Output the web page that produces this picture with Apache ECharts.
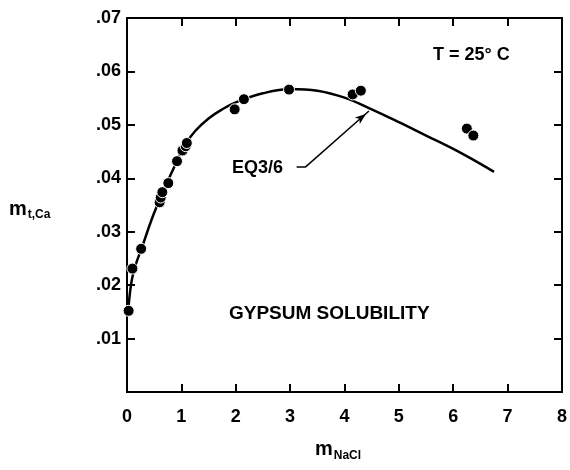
<!DOCTYPE html>
<html>
<head>
<meta charset="utf-8">
<script src="https://cdn.jsdelivr.net/npm/echarts@6/dist/echarts.min.js"></script>
<style>
	html, body { margin: 0; padding: 0; background: #fff; }
	#chart { width: 570px; height: 470px; }
</style>
</head>
<body>
<div id="chart"></div>
<script>
// 测量点 (m NaCl, m t,Ca)
const measuredX = [0.03, 0.1, 0.26, 0.6, 0.62, 0.65, 0.76, 0.92, 1.02, 1.08, 1.1, 1.98, 2.15, 2.98, 4.15, 4.3, 6.25, 6.37];
const measuredY = [0.0152, 0.0231, 0.0268, 0.0355, 0.0364, 0.0374, 0.0391, 0.0432, 0.0452, 0.046, 0.0466, 0.0529, 0.0548, 0.0566, 0.0557, 0.0564, 0.0493, 0.0480];

// EQ3/6 计算曲线
const modelX = [0.02, 0.08, 0.15, 0.3, 0.45, 0.6, 0.75, 0.9, 1.05, 1.25, 1.5, 1.75, 2.0, 2.5, 3.0, 3.5, 4.0, 4.5, 5.0, 5.5, 6.0, 6.5, 6.75];
const modelY = [0.0150, 0.0205, 0.0235, 0.0278, 0.0322, 0.0360, 0.0395, 0.0428, 0.0460, 0.0488, 0.0512, 0.0529, 0.0542, 0.0559, 0.0567, 0.0564, 0.0551, 0.0529, 0.0505, 0.0480, 0.0455, 0.0427, 0.0412];

// 刻度
const xTicks = [0, 1, 2, 3, 4, 5, 6, 7, 8];
const yTicks = [0, 0.01, 0.02, 0.03, 0.04, 0.05, 0.06, 0.07];

// 标注箭头 (EQ3/6 -> 曲线)
const pointerX = [3.12, 3.28, 4.45];
const pointerY = [0.0421, 0.0421, 0.0526];

const FONT = '"Liberation Sans", Arial, sans-serif';

const chart = echarts.init(document.getElementById('chart'));

const tickStyle = {
	show: true,
	inside: true,
	length: 8,
	lineStyle: { color: '#000', width: 2 }
};
const lineStyle = { onZero: false, show: true, lineStyle: { color: '#000', width: 2 } };

const option = {
	animation: false,
	grid: {
		left: 127,
		right: 5,
		top: 18,
		bottom: 78,
		show: true,
		borderColor: '#000',
		borderWidth: 2
	},
	xAxis: [
		{
			type: 'value',
			min: xTicks[0],
			max: xTicks[xTicks.length - 1],
			interval: 1,
			axisLine: lineStyle,
			axisTick: tickStyle,
			splitLine: { show: false },
			axisLabel: {
				color: '#000',
				fontFamily: FONT,
				fontWeight: 'bold',
				fontSize: 18,
				margin: 16
			}
		},
		{
			type: 'value',
			position: 'top',
			min: xTicks[0],
			max: xTicks[xTicks.length - 1],
			interval: 1,
			axisLine: lineStyle,
			axisTick: tickStyle,
			splitLine: { show: false },
			axisLabel: { show: false }
		}
	],
	yAxis: [
		{
			type: 'value',
			min: yTicks[0],
			max: yTicks[yTicks.length - 1],
			interval: 0.01,
			axisLine: lineStyle,
			axisTick: tickStyle,
			splitLine: { show: false },
			axisLabel: {
				color: '#000',
				fontFamily: FONT,
				fontWeight: 'bold',
				fontSize: 18,
				margin: 6,
				formatter: v => v === 0 ? '' : '.' + String(Math.round(v * 100)).padStart(2, '0')
			}
		},
		{
			type: 'value',
			position: 'right',
			min: yTicks[0],
			max: yTicks[yTicks.length - 1],
			interval: 0.01,
			axisLine: lineStyle,
			axisTick: tickStyle,
			splitLine: { show: false },
			axisLabel: { show: false }
		}
	],
	series: [
		{
			name: 'EQ3/6',
			type: 'line',
			smooth: 0.4,
			symbol: 'none',
			lineStyle: { color: '#000', width: 2.5 },
			data: modelX.map((x, i) => [x, modelY[i]]),
			z: 2
		},
		{
			name: 'pointer',
			type: 'line',
			symbol: 'none',
			lineStyle: { color: '#000', width: 1.5 },
			data: pointerX.map((x, i) => [x, pointerY[i]]),
			markPoint: {
				symbol: 'arrow',
				symbolSize: [6, 11],
				symbolRotate: -52,
				symbolOffset: [-3, 3],
				itemStyle: { color: '#000' },
				label: { show: false },
				data: [{ coord: [pointerX[2], pointerY[2]] }]
			},
			z: 2
		},
		{
			name: 'measured',
			type: 'scatter',
			symbol: 'circle',
			symbolSize: 11,
			itemStyle: { color: '#000', opacity: 1, borderColor: '#fff', borderWidth: 1 },
			data: measuredX.map((x, i) => [x, measuredY[i]]),
			z: 3
		}
	],
	graphic: [
		{
			type: 'text',
			left: 433,
			top: 46,
			style: { text: 'T = 25° C', font: 'bold 18px ' + FONT, fill: '#000' }
		},
		{
			type: 'text',
			left: 232,
			top: 159,
			style: { text: 'EQ3/6', font: 'bold 18px ' + FONT, fill: '#000' }
		},
		{
			type: 'text',
			left: 229,
			top: 304,
			style: { text: 'GYPSUM SOLUBILITY', font: 'bold 19px ' + FONT, fill: '#000' }
		},
		{
			type: 'text',
			left: 9,
			top: 197,
			style: {
				text: '{m|m}{s|t,Ca}',
				rich: {
					m: { font: 'bold 20px ' + FONT, fill: '#000', lineHeight: 22 },
					s: { font: 'bold 12px ' + FONT, fill: '#000', padding: [12, 0, 0, 1], lineHeight: 22 }
				}
			}
		},
		{
			type: 'text',
			left: 315,
			top: 436,
			style: {
				text: '{m|m}{s|NaCl}',
				rich: {
					m: { font: 'bold 20px ' + FONT, fill: '#000', lineHeight: 22 },
					s: { font: 'bold 12px ' + FONT, fill: '#000', padding: [14, 0, 0, 1], lineHeight: 22 }
				}
			}
		}
	]
};

chart.setOption(option);
</script>
</body>
</html>
